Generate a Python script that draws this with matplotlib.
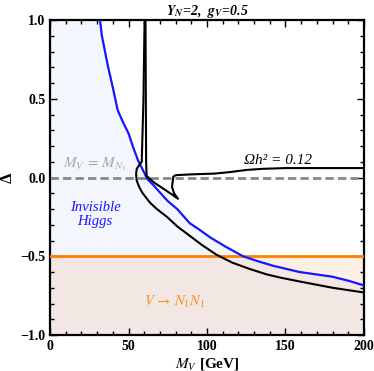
import numpy as np
import matplotlib
matplotlib.use("Agg")
import matplotlib.pyplot as plt

plt.rcParams['font.family'] = ['Liberation Serif', 'DejaVu Serif']
plt.rcParams['mathtext.fontset'] = 'stix'

# invisible Higgs boundary (blue)
blue_x = [31.8, 33, 35, 37, 40, 43, 46.5, 50, 53, 56, 59, 62, 66, 70, 75, 81,
          89, 95, 102, 112, 123, 132, 142, 159, 180, 190, 200]
blue_y = [1.0, 0.9, 0.8, 0.70, 0.57, 0.43, 0.35, 0.28, 0.19, 0.11, 0.05, -0.01,
          -0.05, -0.095, -0.15, -0.2, -0.29, -0.33, -0.38, -0.44, -0.5, -0.53,
          -0.56, -0.6, -0.63, -0.655, -0.685]

# relic density contour, two branches
relic1_x = [60.2, 59.5, 58.4, 56.5, 55.2, 54.8, 55.2, 57, 59, 63.7, 68, 74.5,
            81, 89, 97, 106, 116, 127, 138, 146.5, 159, 180, 200]
relic1_y = [1.0, 0.5, 0.1, 0.075, 0.055, 0.02, -0.02, -0.065, -0.1, -0.16, -0.2,
            -0.25, -0.31, -0.37, -0.43, -0.49, -0.54, -0.58, -0.615, -0.635,
            -0.66, -0.70, -0.73]
relic2_x = [60.8, 61.0, 61.2, 61.5, 66, 72, 78, 81.5, 79, 77.7, 78.5, 80, 90,
            105, 115, 125, 135, 150, 175, 200]
relic2_y = [1.0, 0.5, 0.1, 0.01, -0.03, -0.07, -0.11, -0.135, -0.1, -0.06,
            0.005, 0.015, 0.02, 0.025, 0.035, 0.048, 0.055, 0.06, 0.06, 0.06]

decay_cut = -0.5

fig = plt.figure(figsize=(3.74, 3.71), dpi=100)
ax = fig.add_axes([0.134, 0.097, 0.839, 0.849])

# shaded regions
ax.axhspan(-1, decay_cut, color='#fdefe3', lw=0, zorder=0)
fx = np.append(blue_x, 200)
fy = np.append(blue_y, -1.0)
ax.fill_betweenx(fy, 0, fx, color=(0.4, 0.5, 0.9), alpha=0.07, lw=0, zorder=1)

ax.axhline(0, color='#888888', lw=2, ls=(0, (3, 1.5)), zorder=2)
ax.axhline(decay_cut, color='#ff8000', lw=2, zorder=3)
ax.plot(blue_x, blue_y, color='#1515ff', lw=1.6, zorder=4)
ax.plot(relic1_x, relic1_y, color='black', lw=1.5, zorder=5)
ax.plot(relic2_x, relic2_y, color='black', lw=1.5, zorder=5)

ax.text(28.5, 0.03, r"$M_V\,=\,M_{N_1}$", color='#a8a8a8', fontsize=11,
        ha='center', va='bottom')
ax.text(28.7, -0.235, "Invisible\nHiggs", color='#1515ff', fontsize=10.5,
        style='italic', ha='center', va='center', linespacing=1.1)
ax.text(145, 0.065, "Ωh² = 0.12", fontsize=11, style='italic',
        ha='center', va='bottom')
ax.text(79.5, -0.79, r"$V\,\rightarrow\,N_1N_1$", color='#ff8c1a', fontsize=10.5,
        ha='center', va='center')

ax.set_xlim(0, 200)
ax.set_ylim(-1, 1)
ax.set_xticks([0, 50, 100, 150, 200])
ax.set_xticks(np.arange(0, 201, 10), minor=True)
ax.set_yticks([-1.0, -0.5, 0.0, 0.5, 1.0])
ax.set_yticks(np.arange(-1, 1.01, 0.1), minor=True)
ax.set_yticklabels(['\u22121.0', '\u22120.5', '0.0', '0.5', '1.0'])
ax.tick_params(which='both', direction='in', top=True, right=True,
               labelsize=10, width=1)
ax.tick_params(which='major', length=5)
ax.tick_params(which='minor', length=3)
for lab in ax.get_xticklabels() + ax.get_yticklabels():
    lab.set_fontweight('bold')
for s in ax.spines.values():
    s.set_linewidth(1.6)

ax.set_xlabel(r"$M_V$ [GeV]", fontsize=11, fontweight='bold', labelpad=2)
ax.set_ylabel("Δ", fontsize=12, fontweight='bold')
ax.yaxis.set_label_coords(-0.11, 0.5)
ax.set_title(r"$\mathbfit{Y}_{\mathbfit{N}}$=2,  $\mathbfit{g}_{\mathbfit{V}}$=0.5",
             fontsize=10, fontweight='bold', style='italic', pad=3)

fig.savefig("out.png", dpi=100)
